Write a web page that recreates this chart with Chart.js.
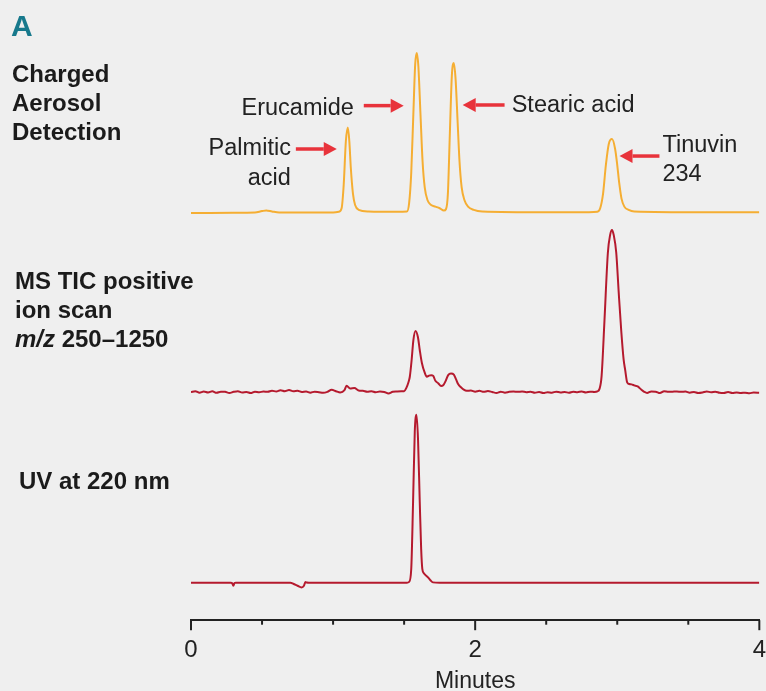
<!DOCTYPE html>
<html>
<head>
<meta charset="utf-8">
<script src="https://cdn.jsdelivr.net/npm/chart.js@4"></script>
<style>
  html, body { margin: 0; padding: 0; background: #efefef; }
  canvas { display: block; }
</style>
</head>
<body>
<canvas id="chromChart" width="766" height="691" style="width:766px;height:691px"></canvas>
<script>
// [minutes, relative signal]
const cadPoints = [
  [0, 0], [0.3, 0.1], [0.45, 0.3], [0.5, 1.2], [0.53, 1.6], [0.57, 1], [0.62, 0.4], [0.8, 0.3], [1.0, 0.4],
  [1.04, 0.8], [1.06, 3], [1.075, 18], [1.09, 45], [1.104, 53.5], [1.115, 44], [1.125, 28], [1.14, 12], [1.155, 5], [1.18, 2], [1.25, 1],
  [1.45, 0.8], [1.52, 1], [1.535, 6], [1.55, 25], [1.565, 62], [1.578, 93], [1.589, 100], [1.60, 92], [1.615, 62], [1.63, 32],
  [1.645, 16], [1.665, 8], [1.69, 5], [1.72, 4], [1.75, 3], [1.78, 1.5], [1.795, 2.5], [1.808, 12], [1.822, 50], [1.836, 86],
  [1.849, 93.7], [1.862, 84], [1.876, 58], [1.89, 32], [1.905, 16], [1.925, 8], [1.95, 4], [1.99, 2], [2.05, 1],
  [2.5, 0.5], [2.8, 0.5], [2.86, 0.8], [2.88, 3], [2.9, 12], [2.92, 30], [2.94, 43], [2.963, 46.2], [2.985, 40], [3.0, 30],
  [3.015, 18], [3.03, 9], [3.05, 4], [3.08, 2], [3.12, 1], [3.6, 0.5], [4.0, 0.5]
];
const msPoints = [
  [0, 0], [0.03, 0.6], [0.06, -0.3], [0.09, 0.4], [0.12, -0.2], [0.15, 0.5], [0.18, -0.4], [0.21, 0.3], [0.24, 0.2],
  [0.27, -0.5], [0.3, 0.2], [0.33, 0.6], [0.36, -0.2], [0.39, 0.1], [0.42, -0.6], [0.45, 0.3], [0.48, -0.1], [0.51, 0.4],
  [0.54, 0.2], [0.57, 0.9], [0.6, 0.4], [0.63, 1.2], [0.66, 0.6], [0.69, 1.3], [0.72, 0.5], [0.75, 0.8], [0.78, 0.1],
  [0.81, 0.4], [0.84, -0.3], [0.87, 0.3], [0.9, 0], [0.93, -0.4], [0.96, 0.2], [0.99, 1.5], [1.02, 0.6], [1.05, -0.2],
  [1.08, 1.2], [1.095, 3.9], [1.12, 2.2], [1.15, 2.5], [1.18, 1], [1.21, 0.8], [1.24, 0.2], [1.27, 0.6], [1.3, -0.1],
  [1.33, 0.4], [1.36, 0.1], [1.39, -0.8], [1.42, 0.2], [1.45, 0.4], [1.48, 0.5], [1.5, 0.5],
  [1.515, 2.5], [1.53, 6], [1.54, 9.5], [1.553, 20], [1.565, 32], [1.58, 37.8], [1.597, 34], [1.61, 26], [1.625, 18],
  [1.645, 12], [1.66, 9.5], [1.675, 10.2], [1.69, 10.5], [1.705, 10], [1.72, 7], [1.74, 5.5], [1.76, 3.8], [1.775, 4.2],
  [1.79, 6.5], [1.81, 10.5], [1.83, 11.5], [1.85, 10.8], [1.865, 8], [1.88, 5], [1.9, 3], [1.92, 1.5], [1.94, 0.8],
  [1.97, 1], [2.0, 0.3], [2.03, 0.8], [2.06, 0.2], [2.09, 0.7], [2.12, 0.1], [2.15, -0.5], [2.18, 0.3], [2.21, -0.3],
  [2.24, 0.2], [2.27, 0.4], [2.3, 0.2], [2.33, 0.4], [2.36, 0], [2.39, 0.2], [2.42, -0.4], [2.45, 0.1], [2.48, -0.6],
  [2.51, 0], [2.54, -0.3], [2.57, 0.3], [2.6, -0.2], [2.63, 0.1], [2.66, -0.4], [2.69, 0.3], [2.72, 0], [2.75, 0.4],
  [2.78, -0.2], [2.81, 0.3], [2.84, 0.1], [2.86, 0.5],
  [2.875, 2], [2.89, 10], [2.91, 44], [2.934, 86], [2.95, 97], [2.963, 100], [2.975, 97], [2.993, 86], [3.01, 62],
  [3.028, 38], [3.045, 20], [3.056, 13.6], [3.07, 6], [3.085, 5], [3.1, 4.8], [3.12, 4.2], [3.144, 3.5], [3.17, 1.5],
  [3.19, 0.2], [3.21, -0.5], [3.24, 0.4], [3.27, 0.3], [3.3, -0.6], [3.33, 0.6], [3.36, 0.2], [3.39, 0.3], [3.42, 0.4],
  [3.45, 0.2], [3.48, 0.4], [3.51, -0.3], [3.54, 0.1], [3.57, -0.5], [3.6, -0.2], [3.63, 0.4], [3.66, -0.1], [3.69, 0.3],
  [3.72, -0.4], [3.75, -0.6], [3.78, 0.1], [3.81, -0.6], [3.84, -0.2], [3.87, -0.5], [3.9, -0.3], [3.93, -0.7],
  [3.96, -0.2], [4.0, -0.4]
];
const uvPoints = [
  [0, 0], [0.28, 0], [0.29, -0.3], [0.298, -1.8], [0.306, -0.2], [0.315, 0], [0.7, 0], [0.72, -0.6], [0.75, -1.8],
  [0.778, -2.8], [0.795, -1.8], [0.805, 0.4], [0.815, 0.1], [0.83, 0], [1.52, 0], [1.535, 0.5], [1.55, 8], [1.563, 48],
  [1.575, 90], [1.587, 100], [1.598, 85], [1.61, 48], [1.62, 20], [1.628, 8.3], [1.64, 5.5], [1.668, 3.2], [1.685, 1.5],
  [1.703, 0.2], [1.75, 0], [4.0, 0]
];

const traceNames = ['Charged Aerosol Detection', 'MS TIC positive ion scan m/z 250–1250', 'UV at 220 nm'];
const panelLabels = [
  ['Charged', 'Aerosol', 'Detection'],
  ['MS TIC positive', 'ion scan', 'm/z 250–1250'],
  ['UV at 220 nm']
];
const xTickValues = [0, 2, 4];

// peak call-outs on the CAD trace (minutes / CAD units)
const peakNames = [['Palmitic', 'acid'], ['Erucamide'], ['Stearic acid'], ['Tinuvin', '234']];
const arrowTip = [1.026, 1.497, 1.912, 3.016];
const arrowTail = [0.738, 1.216, 2.207, 3.297];
const arrowHeight = [40, 67.1, 67.5, 35.6];
const peakTextX = [0.703, 1.146, 2.257, 3.318];
const peakTextY = [36.25, 61.25, 63.3, 38.3];

const FONT = "'Liberation Sans', 'Helvetica Neue', Arial, sans-serif";

function toXY(points) {
  return points.map(p => ({ x: p[0], y: p[1] }));
}

const background = {
  id: 'background',
  beforeDraw(chart) {
    const c = chart.ctx;
    c.save();
    c.fillStyle = '#efefef';
    c.fillRect(0, 0, chart.width, chart.height);
    c.restore();
  }
};

// long ticks at the labelled minutes, short ones in between
const axisTicks = {
  id: 'axisTicks',
  afterDraw(chart) {
    const xs = chart.scales.x;
    const c = chart.ctx;
    c.save();
    c.strokeStyle = '#222';
    c.lineWidth = 2;
    xs.ticks.forEach(t => {
      const major = xTickValues.indexOf(t.value) !== -1;
      const px = xs.getPixelForValue(t.value);
      c.beginPath();
      c.moveTo(px, xs.top);
      c.lineTo(px, xs.top + (major ? 10 : 4.5));
      c.stroke();
    });
    c.restore();
  }
};

const sideLabels = {
  id: 'sideLabels',
  afterDraw(chart) {
    const c = chart.ctx;
    c.save();
    c.textBaseline = 'alphabetic';
    c.textAlign = 'left';
    c.fillStyle = '#17798c';
    c.font = 'bold 30px ' + FONT;
    c.fillText('A', 11, 35.5);

    const starts = [[12, 81.5], [15, 288.5], [19, 488.5]];
    c.fillStyle = '#1b1b1b';
    panelLabels.forEach((lines, i) => {
      lines.forEach((line, j) => {
        const x = starts[i][0];
        const y = starts[i][1] + j * 29;
        if (line.startsWith('m/z')) {
          c.font = 'italic bold 24px ' + FONT;
          c.fillText('m/z', x, y);
          const w = c.measureText('m/z').width;
          c.font = 'bold 24px ' + FONT;
          c.fillText(line.slice(3), x + w, y);
        } else {
          c.font = 'bold 24px ' + FONT;
          c.fillText(line, x, y);
        }
      });
    });
    c.restore();
  }
};

function drawArrow(c, x0, x1, y) {
  const dir = x1 > x0 ? 1 : -1;
  const head = 13;
  c.beginPath();
  c.moveTo(x0, y);
  c.lineTo(x1 - dir * head, y);
  c.stroke();
  c.beginPath();
  c.moveTo(x1, y);
  c.lineTo(x1 - dir * head, y - 7);
  c.lineTo(x1 - dir * head, y + 7);
  c.closePath();
  c.fill();
}

const peakCallouts = {
  id: 'peakCallouts',
  afterDraw(chart) {
    const xs = chart.scales.x;
    const ys = chart.scales.yCad;
    const c = chart.ctx;
    c.save();
    c.strokeStyle = '#e8333b';
    c.fillStyle = '#e8333b';
    c.lineWidth = 3.5;
    peakNames.forEach((lines, i) => {
      drawArrow(c, xs.getPixelForValue(arrowTail[i]), xs.getPixelForValue(arrowTip[i]),
        ys.getPixelForValue(arrowHeight[i]));
    });
    c.fillStyle = '#222';
    c.font = '23.5px ' + FONT;
    c.textBaseline = 'alphabetic';
    peakNames.forEach((lines, i) => {
      c.textAlign = arrowTail[i] < arrowTip[i] ? 'right' : 'left';
      const tx = xs.getPixelForValue(peakTextX[i]);
      const ty = ys.getPixelForValue(peakTextY[i]);
      lines.forEach((line, j) => c.fillText(line, tx, ty + j * 29.5));
    });
    c.restore();
  }
};

function loadChromChart() {
  const ctx = document.getElementById('chromChart').getContext('2d');
  return new Chart(ctx, {
    type: 'line',
    data: {
      datasets: [
        { label: traceNames[0], data: toXY(cadPoints), yAxisID: 'yCad', borderColor: '#f5ae33' },
        { label: traceNames[1], data: toXY(msPoints), yAxisID: 'yMs', borderColor: '#b51a2e' },
        { label: traceNames[2], data: toXY(uvPoints), yAxisID: 'yUv', borderColor: '#b51a2e' }
      ]
    },
    options: {
      responsive: false,
      animation: false,
      layout: { padding: { left: 191, right: 0, top: 20, bottom: -2 } },
      elements: {
        point: { radius: 0, hoverRadius: 0 },
        line: { borderWidth: 2, cubicInterpolationMode: 'monotone' }
      },
      plugins: {
        legend: { display: false },
        tooltip: { enabled: false }
      },
      scales: {
        x: {
          type: 'linear',
          min: 0,
          max: 4,
          ticks: {
            stepSize: 0.5,
            autoSkip: false,
            maxRotation: 0,
            padding: 0,
            color: '#222',
            font: { family: FONT, size: 24, lineHeight: 1.2 },
            callback: v => xTickValues.indexOf(v) === -1 ? '' : String(v)
          },
          grid: {
            drawOnChartArea: false,
            drawTicks: true,
            tickLength: 16,
            tickColor: 'rgba(0,0,0,0)'
          },
          border: { display: true, color: '#222', width: 2 },
          title: {
            display: true,
            text: 'Minutes',
            color: '#222',
            padding: { top: 5, bottom: 0 },
            font: { family: FONT, size: 23, lineHeight: 1 }
          }
        },
        yCad: { type: 'linear', display: false, min: -254.4, max: 120.6 },
        yMs: { type: 'linear', display: false, min: -140.7, max: 229.6 },
        yUv: { type: 'linear', display: false, min: -22.3, max: 334.8 }
      }
    },
    plugins: [background, axisTicks, sideLabels, peakCallouts]
  });
}

window.addEventListener('load', loadChromChart);
</script>
</body>
</html>
